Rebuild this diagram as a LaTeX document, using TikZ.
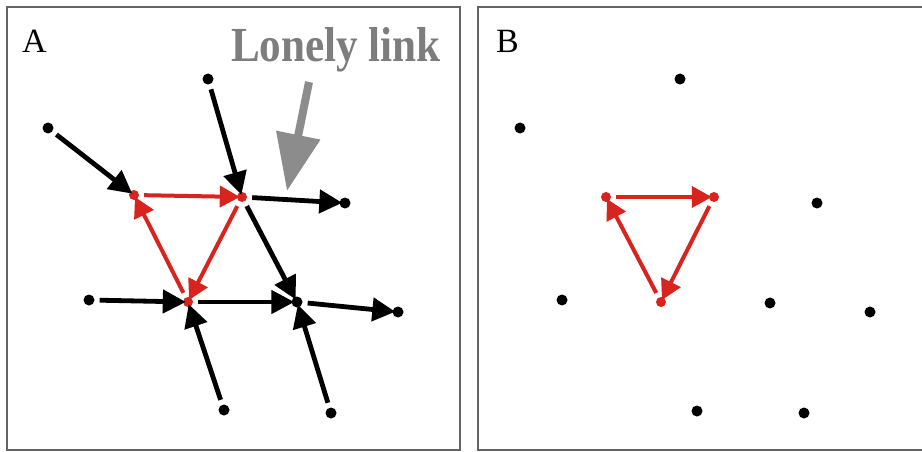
\documentclass[tikz,border=0pt]{standalone}
\usepackage{fontspec}
\setmainfont{Liberation Serif}
\usetikzlibrary{arrows.meta}
\definecolor{myred}{RGB}{216,36,30}
\definecolor{framegray}{RGB}{100,100,100}
\definecolor{notegray}{RGB}{125,125,125}
\definecolor{arrowgray}{RGB}{140,140,140}
\tikzset{
  frame/.style={draw=framegray, line width=1.5pt},
  bdot/.style={circle, fill=black, inner sep=0pt, minimum size=11pt},
  rdot/.style={circle, fill=myred, inner sep=0pt, minimum size=10pt},
  blink/.style={line width=4.8pt, black, -{Triangle[length=23pt,width=23pt]}, shorten <=5pt, shorten >=-3pt},
  rlink/.style={line width=4pt, myred, -{Triangle[length=20pt,width=21pt]}, shorten <=5pt, shorten >=-3pt},
  panel/.style={font=\fontsize{34}{34}\selectfont, anchor=base west, inner sep=0pt},
}
\begin{document}
\begin{tikzpicture}[x=1pt,y=-1pt]
\useasboundingbox (0,0) rectangle (922,452);
\fill[white] (0,0) rectangle (922,452);
% frames
\draw[frame] (7,7) rectangle (460,450);
\draw[frame] (922,7) -- (478,7) -- (478,450) -- (922,450);
% labels
\node[panel] (la) at (22,53) {A};
\node[panel] (lb) at (496,53) {B};
\node[font=\fontsize{49}{49}\selectfont\bfseries, text=notegray, anchor=base, inner sep=0pt] (lonely) at (336,62) {\scalebox{0.88}[1]{Lonely link}};
% gray pointer
\coordinate (gs) at (309,82);
\coordinate (ge) at (287,191);
\draw[line width=8pt, arrowgray, -{Triangle[length=57pt,width=43pt]}] (gs) -- (ge);
% panel A nodes
\node[bdot] (a1) at (208,79) {};
\node[bdot] (a2) at (48,128) {};
\node[rdot] (ar1) at (134,195) {};
\node[rdot] (ar2) at (242,197) {};
\node[bdot] (a3) at (345,203) {};
\node[rdot] (ar3) at (188,302) {};
\node[bdot] (a4) at (89,300) {};
\node[bdot] (am) at (297,302) {};
\node[bdot] (a5) at (398,312) {};
\node[bdot] (a6) at (224,410) {};
\node[bdot] (a7) at (331,413) {};
% panel A edges
\draw[blink] (a1) -- (ar2);
\draw[blink] (a2) -- (ar1);
\draw[blink] (ar2) -- (a3);
\draw[blink] (ar2) -- (am);
\draw[blink] (a4) -- (ar3);
\draw[blink] (a6) -- (ar3);
\draw[blink] (ar3) -- (am);
\draw[blink] (a7) -- (am);
\draw[blink] (am) -- (a5);
\draw[rlink] (ar1) -- (ar2);
\draw[rlink] (ar2) -- (ar3);
\draw[rlink] (ar3) -- (ar1);
% panel B nodes
\node[bdot] (b1) at (680,79) {};
\node[bdot] (b2) at (520,128) {};
\node[rdot] (br1) at (606,197) {};
\node[rdot] (br2) at (714,197) {};
\node[bdot] (b3) at (817,203) {};
\node[rdot] (br3) at (661,302) {};
\node[bdot] (b4) at (562,300) {};
\node[bdot] (b5) at (770,303) {};
\node[bdot] (b6) at (870,312) {};
\node[bdot] (b7) at (697,411) {};
\node[bdot] (b8) at (804,413) {};
% panel B edges
\draw[rlink] (br1) -- (br2);
\draw[rlink] (br2) -- (br3);
\draw[rlink] (br3) -- (br1);
\end{tikzpicture}
\end{document}
